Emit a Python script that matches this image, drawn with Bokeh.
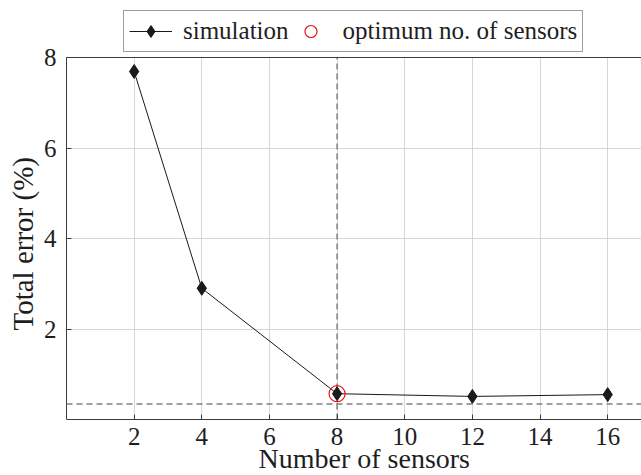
from bokeh.plotting import figure
from bokeh.models import (Range1d, FixedTicker, Span, Legend, LegendItem, Title)
from bokeh.embed import file_html
from bokeh.resources import INLINE

# Total error vs. number of sensors
n_sensors = [2, 4, 8, 12, 16]
total_error = [7.69, 2.90, 0.57, 0.51, 0.55]

# chosen optimum
opt_sensors = [8]
opt_error = [0.57]

# reference levels (dashed guides)
opt_line_x = 8
floor_error = 0.34

x_ticks = [2, 4, 6, 8, 10, 12, 14, 16]
y_ticks = [2, 4, 6, 8]
y_min, y_max = 0, 8

FONT = "Liberation Serif"
TXT = "#1e1e1e"
AXC = "#3c3c3c"

# The frame runs to the top of the canvas so the legend box can sit above
# the y = 8 border; everything else is bounded to [y_min, y_max].
H, BOTTOM, TOP_GAP = 475, 56, 57
frame_h = H - BOTTOM
y_top = y_max * frame_h / (frame_h - TOP_GAP)

p = figure(width=641, height=H, output_backend="svg", toolbar_location=None,
           x_range=Range1d(0, 17), y_range=Range1d(y_min, y_top),
           min_border_left=66, min_border_right=0, min_border_top=0,
           min_border_bottom=BOTTOM)
p.outline_line_color = None

for ax in (p.xaxis[0], p.yaxis[0]):
    ax.major_tick_in = 5
    ax.major_tick_out = 0
    ax.minor_tick_line_color = None
    ax.axis_line_color = AXC
    ax.major_tick_line_color = AXC
    ax.major_label_text_font = FONT
    ax.major_label_text_font_size = "25px"
    ax.major_label_text_color = TXT

p.xaxis.ticker = FixedTicker(ticks=x_ticks)
p.yaxis.ticker = FixedTicker(ticks=y_ticks)
p.yaxis.bounds = (y_min, y_max)
p.xaxis.major_label_standoff = 8
p.yaxis.major_label_standoff = 10

p.grid.grid_line_color = "#d6d6d6"
p.grid.grid_line_width = 1
p.xgrid.ticker = FixedTicker(ticks=x_ticks)
p.ygrid.ticker = FixedTicker(ticks=y_ticks)
p.xgrid.cross_bounds = (y_min, y_max)

# top border of the plot box
p.add_layout(Span(location=y_max, dimension="width", line_color=AXC, line_width=1))

# dashed guides
p.segment(x0=[opt_line_x], y0=[y_min], x1=[opt_line_x], y1=[y_max],
          line_color="#808080", line_width=1.5, line_dash="6 4")
p.add_layout(Span(location=floor_error, dimension="width", line_color="#808080",
                  line_width=1.5, line_dash="6 4"))

line_r = p.line(n_sensors, total_error, line_color="#1a1a1a", line_width=1)
pts_r = p.scatter(n_sensors, total_error, marker="diamond", size=14,
                  fill_color="#1a1a1a", line_color="#1a1a1a")
opt_r = p.scatter(opt_sensors, opt_error, marker="circle", size=16,
                  fill_color=None, line_color="#e8141e", line_width=1.2)

legend = Legend(items=[LegendItem(label="simulation", renderers=[line_r, pts_r]),
                       LegendItem(label="optimum no. of sensors", renderers=[opt_r])],
                orientation="horizontal", location=(57, frame_h - 52))
legend.label_text_font = FONT
legend.label_text_font_size = "25px"
legend.label_text_color = TXT
legend.glyph_width = 43
legend.glyph_height = 30
legend.label_standoff = 11
legend.spacing = 0
legend.padding = 5
legend.margin = 0
legend.border_line_color = AXC
legend.border_line_width = 1
legend.background_fill_alpha = 1
p.add_layout(legend, "center")

# axis titles, placed along the bounded part of the frame
xt = Title(text="Number of sensors", align="left", offset=192,
           text_font=FONT, text_font_size="28px", text_font_style="normal",
           text_color=TXT, standoff=-14)
p.add_layout(xt, "below")

yt = Title(text="Total error (%)", align="left", offset=89,
           text_font=FONT, text_font_size="29px", text_font_style="normal",
           text_color=TXT, standoff=4)
p.add_layout(yt, "left")

open("out.html", "w").write(file_html(p, INLINE))
